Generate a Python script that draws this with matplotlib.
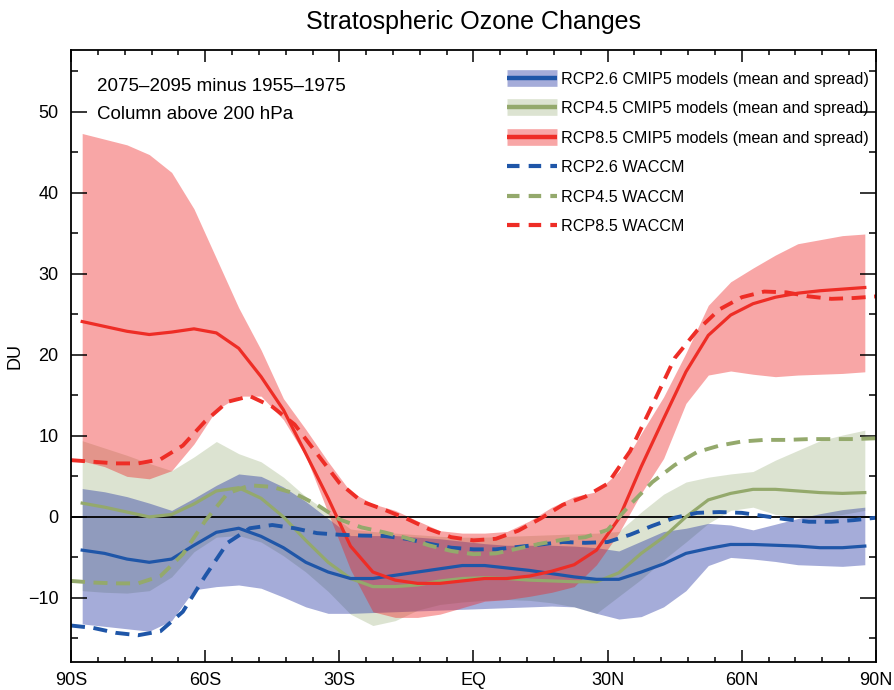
import numpy as np
import matplotlib
matplotlib.use('Agg')
import matplotlib.pyplot as plt
from matplotlib.lines import Line2D

plt.rcParams['font.family'] = ['Liberation Sans', 'DejaVu Sans']

# latitude grids
lat_cmip = np.arange(-87.5, 90, 5)
lat_waccm = np.arange(-90, 91, 5)

# CMIP5 multi-model mean and spread (DU)
rcp26_mean = [-4.1, -4.5, -5.2, -5.6, -5.2, -3.5, -1.9, -1.4, -2.4, -3.8,
              -5.6, -6.8, -7.6, -7.6, -7.2, -6.8, -6.4, -6.0, -6.0,
              -6.3, -6.6, -7.0, -7.4, -7.7, -7.7, -6.8, -5.8,
              -4.5, -3.9, -3.4, -3.4, -3.5, -3.6, -3.8, -3.8, -3.6]
rcp26_hi = [3.5, 3.1, 2.5, 1.7, 0.8, 2.3, 3.9, 5.3, 5.0, 3.7,
            1.9, -0.2, -2.3, -2.3, -2.3, -2.5, -2.7, -3.0, -3.3,
            -3.5, -3.5, -3.5, -3.6, -3.8, -4.2, -3.0, -1.8,
            -1.4, -0.8, -1.0, -1.6, -0.9, -0.2, 0.4, 0.9, 1.2]
rcp26_lo = [-13.2, -13.5, -13.8, -14.1, -12.8, -9.0, -8.6, -8.4, -8.8, -9.9,
            -11.1, -11.9, -11.9, -11.8, -11.7, -11.6, -11.5, -11.4, -11.3,
            -11.2, -11.1, -11.0, -11.1, -11.9, -12.6, -12.3, -11.1,
            -9.1, -6.0, -5.0, -5.2, -5.5, -5.9, -6.0, -6.1, -5.9]

rcp45_mean = [1.7, 1.2, 0.6, 0.0, 0.3, 1.6, 3.2, 3.6, 2.3, 0.0,
              -2.9, -5.6, -7.6, -8.6, -8.6, -8.4, -7.9, -7.6, -7.5,
              -7.6, -7.8, -7.9, -8.0, -8.0, -6.9, -4.5, -2.5,
              0.0, 2.1, 2.9, 3.4, 3.4, 3.2, 3.0, 2.9, 3.0]
rcp45_hi = [9.4, 8.5, 7.6, 6.6, 5.7, 7.4, 9.3, 7.8, 6.8, 4.9,
            2.5, 0.6, -1.5, -1.8, -2.0, -2.2, -2.4, -2.5, -2.5,
            -2.4, -2.3, -2.2, -2.1, -2.0, -1.8, 0.6, 2.8,
            4.3, 4.9, 5.3, 5.6, 7.0, 8.2, 9.4, 10.1, 10.7]
rcp45_lo = [-9.1, -9.3, -9.4, -9.1, -7.4, -4.3, -2.5, -2.3, -3.1, -4.8,
            -6.8, -9.2, -12.0, -13.4, -12.8, -11.5, -10.8, -10.5, -10.3,
            -10.2, -10.3, -10.6, -11.1, -11.9, -9.8, -7.7, -5.3,
            -3.1, -0.8, 0.8, 1.2, 0.3, 0.0, 0.0, 0.3, 0.8]

rcp85_mean = [24.1, 23.5, 22.9, 22.5, 22.8, 23.2, 22.7, 20.8, 17.3, 13.2,
              7.8, 2.3, -3.6, -6.8, -7.8, -8.2, -8.2, -7.9, -7.6,
              -7.6, -7.3, -6.7, -5.9, -4.1, -0.2, 6.2, 12.1,
              17.9, 22.4, 24.9, 26.3, 27.1, 27.6, 27.9, 28.1, 28.3]
rcp85_hi = [47.3, 46.6, 45.9, 44.7, 42.5, 38.0, 31.9, 25.8, 20.6, 14.6,
            10.8, 6.8, 3.1, 1.6, 0.8, -0.5, -1.7, -2.0, -2.0,
            -1.8, -0.5, 1.2, 2.5, 3.1, 5.6, 10.3, 14.8,
            20.2, 26.1, 29.0, 30.7, 32.3, 33.7, 34.2, 34.7, 34.9]
rcp85_lo = [6.9, 6.2, 5.0, 4.7, 5.7, 9.0, 13.2, 14.9, 14.9, 12.0,
            7.5, 0.5, -6.5, -11.7, -12.4, -12.4, -12.0, -11.2, -10.4,
            -10.2, -9.8, -9.3, -8.6, -5.9, -2.0, 2.9, 7.2,
            14.0, 17.5, 18.0, 17.6, 17.3, 17.5, 17.6, 17.7, 17.9]

# WACCM single model
waccm26 = [-13.4, -13.7, -14.3, -14.6, -14.1, -11.7, -7.3, -3.2, -1.4, -1.0, -1.4, -2.0,
           -2.2, -2.3, -2.35, -2.7, -3.3, -3.8, -4.0, -4.0, -3.7, -3.4, -3.1, -3.2, -3.1,
           -2.2, -1.1, -0.1, 0.5, 0.6, 0.5, 0.1, -0.3, -0.6, -0.6, -0.4, -0.1]
waccm45 = [-7.9, -8.1, -8.2, -8.2, -7.3, -4.6, -0.5, 2.9, 3.9, 3.7, 2.9, 1.5,
           -0.3, -1.3, -1.9, -2.6, -3.5, -4.2, -4.6, -4.5, -3.9, -3.3, -2.8, -2.5, -1.6,
           1.5, 4.3, 6.4, 8.0, 8.8, 9.3, 9.5, 9.5, 9.6, 9.6, 9.6, 9.7]
waccm85 = [7.0, 6.8, 6.6, 6.6, 7.1, 8.8, 11.8, 14.2, 14.9, 13.6, 11.4, 7.8,
           4.2, 1.9, 0.9, -0.2, -1.5, -2.5, -2.9, -2.7, -1.7, -0.2, 1.5, 2.5, 4.1,
           8.1, 13.8, 19.6, 23.0, 25.6, 27.1, 27.8, 27.7, 27.2, 26.9, 27.0, 27.2]

xticks = [-90, -60, -30, 0, 30, 60, 90]
xticklabels = ['90S', '60S', '30S', 'EQ', '30N', '60N', '90N']

blue = '#1f56a8'
green = '#94a96c'
red = '#ee2d26'
blue_fill = ('#2030a0', 0.40)
green_fill = ('#8ca569', 0.30)
red_fill = ('#ee2222', 0.40)

fig = plt.figure(figsize=(8.95, 6.9), dpi=100)
ax = fig.add_axes([71 / 895, 1 - 662 / 690, (876 - 71) / 895, (662 - 50) / 690])

# bands and mean lines
ax.fill_between(lat_cmip, rcp45_lo, rcp45_hi, color=green_fill[0], alpha=green_fill[1], lw=0)
ax.fill_between(lat_cmip, rcp26_lo, rcp26_hi, color=blue_fill[0], alpha=blue_fill[1], lw=0)
ax.plot(lat_cmip, rcp45_mean, color=green, lw=2.3)
ax.plot(lat_cmip, rcp26_mean, color=blue, lw=2.3)
ax.fill_between(lat_cmip, rcp85_lo, rcp85_hi, color=red_fill[0], alpha=red_fill[1], lw=0)
ax.plot(lat_cmip, rcp85_mean, color=red, lw=2.3)

ax.axhline(0, color='black', lw=1.3, zorder=1.5)

# WACCM dashed
dash = (3.6, 2.2)
ax.plot(lat_waccm, waccm26, color=blue, lw=2.8, dashes=dash)
ax.plot(lat_waccm, waccm45, color=green, lw=2.8, dashes=dash)
ax.plot(lat_waccm, waccm85, color=red, lw=2.8, dashes=dash)

ax.set_xlim(-90, 90)
ax.set_ylim(-17.9, 57.6)
ax.set_xticks(xticks)
ax.set_xticklabels(xticklabels)
ax.set_xticks(np.arange(-90, 91, 6), minor=True)
ax.set_yticks(np.arange(-10, 51, 10))
ax.set_yticks(np.arange(-15, 56, 5), minor=True)
ax.tick_params(which='both', direction='in', top=True, right=True, width=1.1, labelsize=13)
ax.tick_params(axis='x', which='major', length=8.6, pad=7)
ax.tick_params(axis='x', which='minor', length=3.6)
ax.tick_params(axis='y', which='major', length=11.5, pad=9)
ax.tick_params(axis='y', which='minor', length=5)
for s in ax.spines.values():
    s.set_linewidth(1.3)

ax.set_ylabel('DU', fontsize=13, labelpad=3)
ax.set_title('Stratospheric Ozone Changes', fontsize=18, pad=15)

ax.text(0.032, 0.941, '2075\u20132095 minus 1955\u20131975', transform=ax.transAxes,
        fontsize=13.5, va='center', ha='left')
ax.text(0.032, 0.894, 'Column above 200 hPa', transform=ax.transAxes,
        fontsize=13.5, va='center', ha='left')

# legend
def band_handle(fill, col):
    return (Line2D([], [], color=fill[0], alpha=fill[1], lw=12, solid_capstyle='butt'),
            Line2D([], [], color=col, lw=3.2, solid_capstyle='butt'))

handles = [band_handle(blue_fill, blue), band_handle(green_fill, green), band_handle(red_fill, red),
           Line2D([], [], color=blue, lw=3, dashes=(3, 2.2)),
           Line2D([], [], color=green, lw=3, dashes=(3, 2.2)),
           Line2D([], [], color=red, lw=3, dashes=(3, 2.2))]
labels = ['RCP2.6 CMIP5 models (mean and spread)',
          'RCP4.5 CMIP5 models (mean and spread)',
          'RCP8.5 CMIP5 models (mean and spread)',
          'RCP2.6 WACCM', 'RCP4.5 WACCM', 'RCP8.5 WACCM']
ax.legend(handles, labels, loc='upper left', bbox_to_anchor=(0.532, 0.978), frameon=False,
          fontsize=11.6, handlelength=3.1, handletextpad=0.25, labelspacing=0.9, borderpad=0)

fig.savefig('out.png', dpi=100)
